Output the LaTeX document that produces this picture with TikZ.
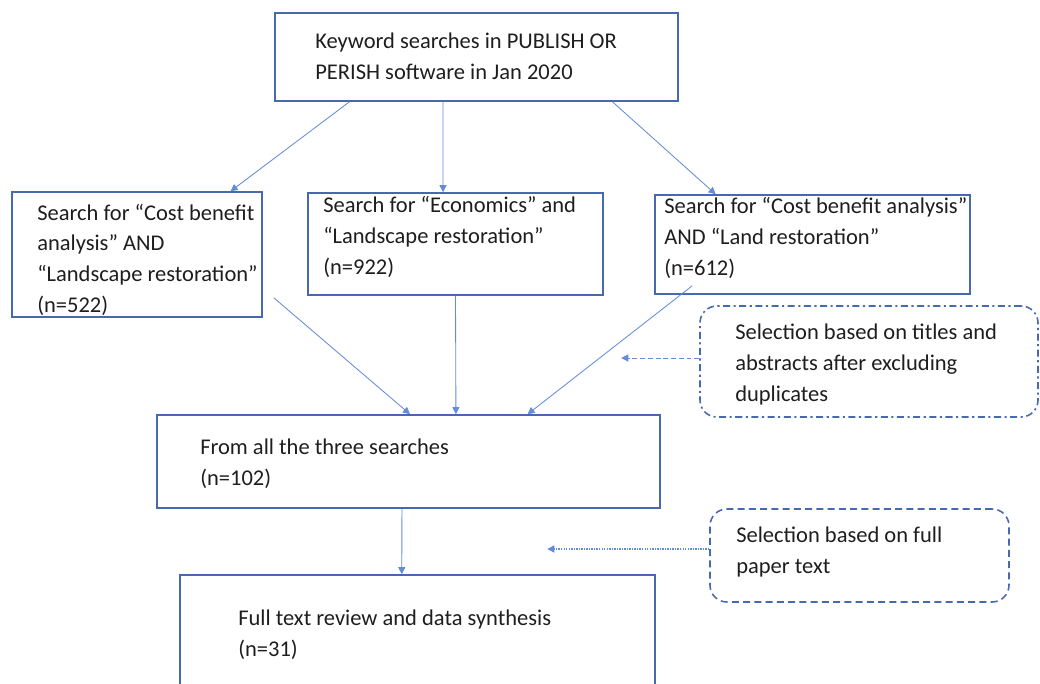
\documentclass[tikz,border=0pt]{standalone}
\usepackage{fontspec}
\setmainfont{Carlito}
\usetikzlibrary{arrows.meta,calc}

\definecolor{boxblue}{RGB}{72,105,175}
\definecolor{lineblue}{RGB}{100,140,215}
\definecolor{txtgray}{RGB}{30,30,30}

\begin{document}
\begin{tikzpicture}[x=0.025cm,y=-0.025cm,
  box/.style={draw=boxblue,line width=1.1pt,inner sep=0pt},
  selbox/.style={draw=boxblue,line width=1.1pt,rounded corners=12pt,inner sep=0pt},
  label/.style={anchor=base west,inner sep=0pt,align=left,text=txtgray,
    font=\fontsize{16pt}{21.7pt}\selectfont},
  flow/.style={draw=lineblue,line width=0.6pt,-{Triangle[length=5pt,width=5pt]}}]

% One pixel of the page
\def\pxl{0.025cm}

\useasboundingbox (0,0) rectangle (1040,684);
\clip (0,0) rectangle (1040,684);

% Boxes
\node[box,minimum width=403*\pxl,minimum height=88*\pxl]  (kw)   at (476.5,57)    {};
\node[box,minimum width=250*\pxl,minimum height=125*\pxl] (cba)  at (137,254.5)   {};
\node[box,minimum width=295*\pxl,minimum height=102*\pxl] (eco)  at (455.5,244)   {};
\node[box,minimum width=315*\pxl,minimum height=99*\pxl]  (land) at (812.5,244.5) {};
\node[box,minimum width=503*\pxl,minimum height=93*\pxl]  (all)  at (408.5,461.5) {};
\node[box,minimum width=475*\pxl,minimum height=145*\pxl] (full) at (417.5,647.5) {};

% Selection notes
\node[selbox,dash pattern=on 5pt off 2.5pt on 1.5pt off 2.5pt,
  minimum width=338*\pxl,minimum height=111*\pxl] (sel1) at (869,361.5) {};
\node[selbox,dash pattern=on 5pt off 3pt,
  minimum width=299*\pxl,minimum height=93*\pxl]  (sel2) at (859.5,555.5) {};

% Texts (placed by the baseline of their last line)
\node[label] (kw-text)   at (315,79)  {Keyword searches in PUBLISH OR\\PERISH software in Jan 2020};
\node[label] (cba-text)  at (37,312)  {Search for “Cost benefit\\analysis” AND\\“Landscape restoration”\\(n=522)};
\node[label] (eco-text)  at (323,274) {Search for “Economics” and\\“Landscape restoration”\\(n=922)};
\node[label] (land-text) at (664,275) {Search for “Cost benefit analysis”\\AND “Land restoration”\\(n=612)};
\node[label] (all-text)  at (200,485) {From all the three searches\\(n=102)};
\node[label] (full-text) at (238,656) {Full text review and data synthesis\\(n=31)};
\node[label] (sel1-text) at (735,401) {Selection based on titles and\\abstracts after excluding\\duplicates};
\node[label] (sel2-text) at (736,573) {Selection based on full\\paper text};

% Arrows
\draw[flow] ($(kw.south west)!0.186!(kw.south east)$) -- ($(cba.north west)!0.872!(cba.north east)$);
\draw[flow] ($(kw.south west)!0.417!(kw.south east)$) -- ($(eco.north west)!0.458!(eco.north east)$);
\draw[flow] ($(kw.south west)!0.836!(kw.south east)$) -- ($(land.north west)!0.194!(land.north east)$);

\draw[flow] ($(cba.south east)+(11,-20)$) -- ($(all.north west)!0.503!(all.north east)$);
\draw[flow] (eco.south) -- ($(all.north west)!0.594!(all.north east)$);
\draw[flow] ($(land.south west)+(38,-9)$) -- ($(all.north west)!0.736!(all.north east)$);

\draw[flow] ($(all.south west)!0.487!(all.south east)$) -- ($(full.north west)!0.467!(full.north east)$);

% Notes pointing back
\draw[flow,line width=0.7pt,dash pattern=on 3.5pt off 2pt] ($(sel1.west)+(0,-3.5)$) -- ($(sel1.west)+(-78,-3.5)$);
\draw[flow,line width=0.9pt,dash pattern=on 1pt off 0.8pt] ($(sel2.west)+(0,-6.5)$) -- ($(sel2.west)+(-162,-6.5)$);

\end{tikzpicture}
\end{document}
